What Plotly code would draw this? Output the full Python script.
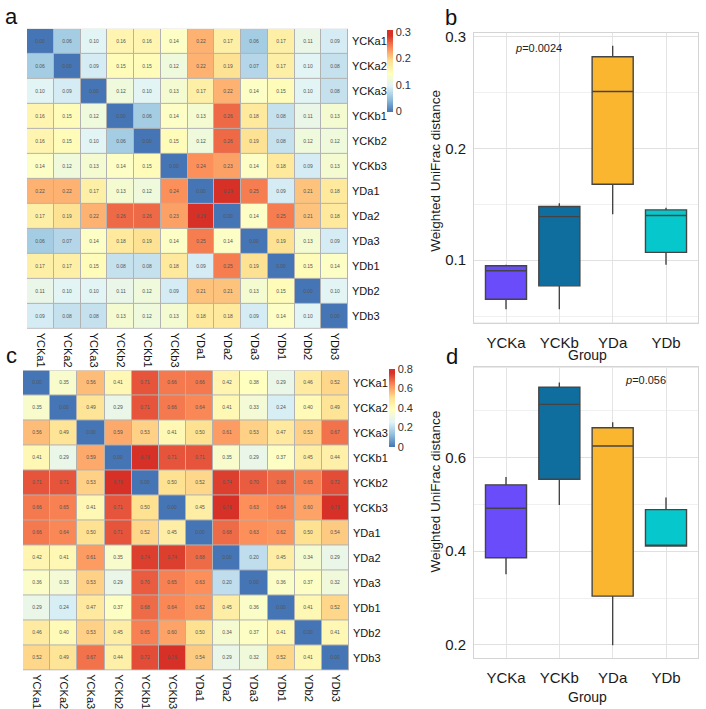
import plotly.graph_objects as go

W, H = 706, 709

row_labels = ["YCKa1", "YCKa2", "YCKa3", "YCKb1", "YCKb2", "YCKb3",
              "YDa1", "YDa2", "YDa3", "YDb1", "YDb2", "YDb3"]
col_labels = ["YCKa1", "YCKa2", "YCKa3", "YCKb2", "YCKb1", "YCKb3",
              "YDa1", "YDa2", "YDa3", "YDb1", "YDb2", "YDb3"]

dist_a = [
    [0.00, 0.06, 0.10, 0.16, 0.16, 0.14, 0.22, 0.17, 0.06, 0.17, 0.11, 0.09],
    [0.06, 0.00, 0.09, 0.15, 0.15, 0.12, 0.22, 0.19, 0.07, 0.17, 0.10, 0.08],
    [0.10, 0.09, 0.00, 0.12, 0.10, 0.13, 0.17, 0.22, 0.14, 0.15, 0.10, 0.08],
    [0.16, 0.15, 0.12, 0.00, 0.06, 0.14, 0.13, 0.26, 0.18, 0.08, 0.11, 0.13],
    [0.16, 0.15, 0.10, 0.06, 0.00, 0.15, 0.12, 0.26, 0.19, 0.08, 0.12, 0.12],
    [0.14, 0.12, 0.13, 0.14, 0.15, 0.00, 0.24, 0.23, 0.14, 0.18, 0.09, 0.13],
    [0.22, 0.22, 0.17, 0.13, 0.12, 0.24, 0.00, 0.29, 0.25, 0.09, 0.21, 0.18],
    [0.17, 0.19, 0.22, 0.26, 0.26, 0.23, 0.29, 0.00, 0.14, 0.25, 0.21, 0.18],
    [0.06, 0.07, 0.14, 0.18, 0.19, 0.14, 0.25, 0.14, 0.00, 0.19, 0.13, 0.09],
    [0.17, 0.17, 0.15, 0.08, 0.08, 0.18, 0.09, 0.25, 0.19, 0.00, 0.15, 0.14],
    [0.11, 0.10, 0.10, 0.11, 0.12, 0.09, 0.21, 0.21, 0.13, 0.15, 0.00, 0.10],
    [0.09, 0.08, 0.08, 0.13, 0.12, 0.13, 0.18, 0.18, 0.09, 0.14, 0.10, 0.00],
]

dist_c = [
    [0.00, 0.35, 0.56, 0.41, 0.71, 0.66, 0.66, 0.42, 0.38, 0.29, 0.46, 0.52],
    [0.35, 0.00, 0.49, 0.29, 0.71, 0.66, 0.64, 0.41, 0.33, 0.24, 0.40, 0.49],
    [0.56, 0.49, 0.00, 0.59, 0.53, 0.41, 0.50, 0.61, 0.53, 0.47, 0.53, 0.67],
    [0.41, 0.29, 0.59, 0.00, 0.76, 0.71, 0.71, 0.35, 0.29, 0.37, 0.45, 0.44],
    [0.71, 0.71, 0.53, 0.76, 0.00, 0.50, 0.52, 0.74, 0.70, 0.68, 0.65, 0.72],
    [0.66, 0.65, 0.41, 0.71, 0.50, 0.00, 0.45, 0.76, 0.63, 0.64, 0.60, 0.76],
    [0.66, 0.64, 0.50, 0.71, 0.52, 0.45, 0.00, 0.68, 0.63, 0.62, 0.50, 0.54],
    [0.42, 0.41, 0.61, 0.35, 0.74, 0.74, 0.68, 0.00, 0.20, 0.45, 0.34, 0.29],
    [0.36, 0.33, 0.53, 0.29, 0.70, 0.65, 0.63, 0.20, 0.00, 0.36, 0.37, 0.32],
    [0.29, 0.24, 0.47, 0.37, 0.68, 0.64, 0.62, 0.45, 0.36, 0.00, 0.41, 0.52],
    [0.46, 0.40, 0.53, 0.45, 0.65, 0.60, 0.50, 0.34, 0.37, 0.41, 0.00, 0.41],
    [0.52, 0.49, 0.67, 0.44, 0.72, 0.76, 0.54, 0.29, 0.32, 0.52, 0.41, 0.00],
]

groups = ["YCKa", "YCKb", "YDa", "YDb"]
group_colors = ["#6a4cfb", "#0f6e9e", "#fbb62f", "#06c8cc"]

b_low = [0.056, 0.056, 0.141, 0.096]
b_q1 = [0.065, 0.077, 0.168, 0.107]
b_med = [0.0905, 0.139, 0.251, 0.140]
b_q3 = [0.095, 0.148, 0.282, 0.145]
b_high = [0.096, 0.151, 0.292, 0.147]

d_low = [0.351, 0.499, 0.199, 0.411]
d_q1 = [0.386, 0.554, 0.304, 0.411]
d_med = [0.492, 0.714, 0.625, 0.411]
d_q3 = [0.542, 0.751, 0.664, 0.489]
d_high = [0.559, 0.761, 0.676, 0.515]

palette = ["#4575B4", "#91BFDB", "#E0F3F8", "#FFFFBF", "#FEE090", "#FC8D59", "#D73027"]


def make_scale(data_max, zmax):
    f = data_max / zmax
    sc = [[f * i / 6, c] for i, c in enumerate(palette)]
    if f < 1:
        sc.append([1.0, palette[-1]])
    return sc


max_a = max(max(r) for r in dist_a)
max_c = max(max(r) for r in dist_c)
ZMAX_A, ZMAX_C = 0.31, 0.80

FONT = "Arial, Liberation Sans, sans-serif"


def px_x(a, b):
    return [a / W, b / W]


def px_y(top, bottom):
    return [1 - bottom / H, 1 - top / H]


fig = go.Figure()

fig.add_trace(go.Heatmap(
    z=dist_a, x=col_labels, y=row_labels, xaxis="x", yaxis="y",
    colorscale=make_scale(max_a, ZMAX_A), zmin=0, zmax=ZMAX_A, xgap=1, ygap=1,
    texttemplate="%{z:.2f}", textfont=dict(size=5, color="#555555"),
    colorbar=dict(x=387 / W, xanchor="left", y=1 - 66 / H, yanchor="middle",
                  lenmode="pixels", len=82, thickness=6, outlinewidth=0,
                  xpad=0, ypad=0,
                  tickvals=[0, 0.1, 0.2, 0.3], ticktext=["0", "0.1", "0.2", "0.3"],
                  ticks="", tickfont=dict(size=11, color="#333", family=FONT)),
))

fig.add_trace(go.Heatmap(
    z=dist_c, x=col_labels, y=row_labels, xaxis="x2", yaxis="y2",
    colorscale=make_scale(max_c, ZMAX_C), zmin=0, zmax=ZMAX_C, xgap=1, ygap=1,
    texttemplate="%{z:.2f}", textfont=dict(size=5, color="#555555"),
    colorbar=dict(x=389 / W, xanchor="left", y=1 - 406 / H, yanchor="middle",
                  lenmode="pixels", len=78, thickness=6, outlinewidth=0,
                  xpad=0, ypad=0,
                  tickvals=[0, 0.2, 0.4, 0.6, 0.8], ticktext=["0", "0.2", "0.4", "0.6", "0.8"],
                  ticks="", tickfont=dict(size=11, color="#333", family=FONT)),
))

for i, g in enumerate(groups):
    fig.add_trace(go.Box(
        x=[g], q1=[b_q1[i]], median=[b_med[i]], q3=[b_q3[i]],
        lowerfence=[b_low[i]], upperfence=[b_high[i]],
        xaxis="x3", yaxis="y3", fillcolor=group_colors[i],
        line=dict(color="#444444", width=1.4), whiskerwidth=0, width=0.77,
        showlegend=False, boxpoints=False,
    ))
    fig.add_trace(go.Box(
        x=[g], q1=[d_q1[i]], median=[d_med[i]], q3=[d_q3[i]],
        lowerfence=[d_low[i]], upperfence=[d_high[i]],
        xaxis="x4", yaxis="y4", fillcolor=group_colors[i],
        line=dict(color="#444444", width=1.4), whiskerwidth=0, width=0.77,
        showlegend=False, boxpoints=False,
    ))

hm_x = dict(showgrid=False, zeroline=False, ticks="", tickangle=90,
            tickfont=dict(size=11, color="#111", family=FONT), ticklabelstandoff=3)
hm_y = dict(showgrid=False, zeroline=False, ticks="", side="right", autorange="reversed",
            tickfont=dict(size=11, color="#111", family=FONT), ticklabelstandoff=3)

bx_x = dict(range=[-0.6, 3.6], showgrid=True, gridcolor="#e4e4e4", gridwidth=1,
            showline=True, mirror=True, linecolor="#d4d4d4", linewidth=1,
            ticks="", tickfont=dict(size=15, color="#1a1a1a", family=FONT),
            ticklabelstandoff=6, zeroline=False)


def bx_y(rng, dt, mdt):
    return dict(range=rng, dtick=dt, tick0=0, showgrid=True, gridcolor="#e0e0e0",
                minor=dict(dtick=mdt, showgrid=True, gridcolor="#f0f0f0", gridwidth=1),
                showline=True, mirror=True, linecolor="#d4d4d4", linewidth=1,
                ticks="", tickfont=dict(size=15, color="#1a1a1a", family=FONT),
                ticklabelstandoff=4, zeroline=False)


fig.update_layout(
    width=W, height=H, margin=dict(l=0, r=0, t=0, b=0),
    paper_bgcolor="white", plot_bgcolor="#b2b2b2",
    font=dict(family=FONT, color="#111"),
    boxmode="overlay",
    xaxis=dict(domain=px_x(27, 348), anchor="y", **hm_x),
    yaxis=dict(domain=px_y(24, 326), anchor="x", **hm_y),
    xaxis2=dict(domain=px_x(23, 349), anchor="y2", **hm_x),
    yaxis2=dict(domain=px_y(368, 670), anchor="x2", **hm_y),
    xaxis3=dict(domain=px_x(474, 698), anchor="y3", **bx_x),
    yaxis3=dict(domain=px_y(28, 320), anchor="x3", **bx_y([0.044, 0.3035], 0.1, 0.05)),
    xaxis4=dict(domain=px_x(474, 698), anchor="y4", **bx_x),
    yaxis4=dict(domain=px_y(365, 658), anchor="x4", **bx_y([0.171, 0.793], 0.2, 0.1)),
    shapes=[
        dict(type="rect", xref="x3 domain", yref="y3 domain", x0=0, x1=1, y0=0, y1=1,
             fillcolor="white", line=dict(width=0), layer="below"),
        dict(type="rect", xref="x4 domain", yref="y4 domain", x0=0, x1=1, y0=0, y1=1,
             fillcolor="white", line=dict(width=0), layer="below"),
    ],
)

ann = []
for txt, x, y in [("a", 11, 12), ("b", 451, 13), ("c", 11, 353), ("d", 452, 354)]:
    ann.append(dict(text=txt, x=x / W, y=1 - y / H, xref="paper", yref="paper",
                    showarrow=False, font=dict(size=22, color="#111", family=FONT),
                    xanchor="center", yanchor="middle"))
ann.append(dict(text="<i>p</i>=0.0024", x=513 / W, y=1 - 43 / H, xref="paper", yref="paper",
                showarrow=False, font=dict(size=11, color="#222", family=FONT),
                xanchor="left", yanchor="middle"))
ann.append(dict(text="<i>p</i>=0.056", x=623 / W, y=1 - 378 / H, xref="paper", yref="paper",
                showarrow=False, font=dict(size=11, color="#222", family=FONT),
                xanchor="left", yanchor="middle"))
for y in [167, 490]:
    ann.append(dict(text="Weighted UniFrac distance", x=436 / W, y=1 - y / H,
                    xref="paper", yref="paper", textangle=-90, showarrow=False,
                    font=dict(size=13.5, color="#1a1a1a", family=FONT),
                    xanchor="center", yanchor="middle"))
for y in [352, 697]:
    ann.append(dict(text="Group", x=587 / W, y=1 - y / H, xref="paper", yref="paper",
                    showarrow=False, font=dict(size=14, color="#1a1a1a", family=FONT),
                    xanchor="center", yanchor="middle"))
fig.update_layout(annotations=ann)

fig.write_html("out.html")
